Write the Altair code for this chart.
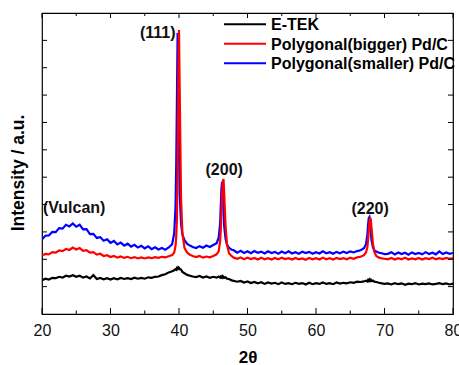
import altair as alt
import pandas as pd

# 2-theta sample positions (degrees)
x_a = [20.0, 20.5, 21.0, 21.5, 22.0, 22.5, 23.0, 23.5, 24.0, 24.5, 25.0, 25.5, 26.0, 26.5,
       27.0, 27.5, 28.0, 28.5, 29.0, 29.5, 30.0, 30.5, 31.0, 31.5, 32.0, 32.5, 33.0, 33.5,
       34.0, 34.5, 35.0, 35.5, 36.0, 36.5, 37.0, 37.5, 38.0, 38.5]
x_p1 = [39.0, 39.3, 39.5, 39.6, 39.7, 39.8, 39.9, 40.0, 40.1, 40.3, 40.5, 40.8, 41.2, 41.6, 42.0]
x_b = [42.5, 43.0, 43.5, 44.0, 44.5, 45.0, 45.5]
x_p2 = [45.8, 46.0, 46.1, 46.2, 46.3, 46.4, 46.5, 46.6, 46.8, 47.0, 47.3, 47.7, 48.0]
x_c = [48.5, 49.0, 49.5, 50.0, 50.5, 51.0, 51.5, 52.0, 52.5, 53.0, 53.5, 54.0, 54.5, 55.0,
       55.5, 56.0, 56.5, 57.0, 57.5, 58.0, 58.5, 59.0, 59.5, 60.0, 60.5, 61.0, 61.5, 62.0,
       62.5, 63.0, 63.5, 64.0, 64.5, 65.0, 65.5, 66.0, 66.5]
x_p3 = [67.0, 67.3, 67.5, 67.6, 67.7, 67.8, 67.9, 68.0, 68.1, 68.3, 68.5, 68.8, 69.2, 69.6, 70.0]
x_e = [70.5, 71.0, 71.5, 72.0, 72.5, 73.0, 73.5, 74.0, 74.5, 75.0, 75.5, 76.0, 76.5, 77.0,
       77.5, 78.0, 78.5, 79.0, 79.5, 80.0]

# E-TEK (black)
etek_a = [12.3, 12.9, 12.6, 13.2, 13.1, 13.6, 13.3, 14.0, 13.7, 14.2, 13.6, 14.0, 13.3, 13.7,
          13.0, 14.2, 12.8, 13.2, 12.7, 13.1, 12.6, 13.1, 12.7, 13.2, 12.8, 13.1, 12.8, 13.3,
          12.9, 13.2, 12.9, 13.4, 13.2, 13.6, 13.7, 14.2, 14.5, 15.2]
etek_p1 = [15.6, 16.0, 16.4, 16.2, 16.8, 16.5, 17.1, 16.9, 16.4, 16.2, 15.4, 14.9, 14.3, 14.0, 13.7]
etek_b = [13.5, 13.9, 13.3, 13.7, 13.2, 13.6, 13.3]
etek_p2 = [13.7, 13.3, 13.7, 13.4, 13.8, 13.3, 13.6, 13.2, 13.4, 12.9, 12.8, 12.3, 12.1]
etek_c = [11.8, 12.1, 11.5, 11.9, 11.3, 11.7, 11.2, 11.6, 11.0, 11.5, 11.1, 11.4, 10.9, 11.5,
          11.0, 11.3, 10.9, 11.4, 11.0, 11.3, 10.8, 11.4, 10.9, 11.3, 11.0, 11.5, 11.0, 11.3,
          10.9, 11.5, 11.1, 11.4, 11.2, 11.6, 11.4, 11.8, 11.7]
etek_p3 = [11.9, 12.2, 11.9, 12.4, 12.1, 12.6, 12.2, 12.5, 12.0, 12.2, 11.8, 11.7, 11.4, 11.2, 11.0]
etek_e = [11.2, 10.8, 11.3, 10.9, 11.2, 10.7, 11.1, 10.9, 11.3, 10.8, 11.1, 10.9, 11.2, 10.8,
          11.0, 11.3, 10.9, 11.2, 10.8, 11.1]

# Polygonal(bigger) Pd/C (red)
big_a = [21.3, 22.0, 21.8, 22.6, 22.4, 23.2, 23.0, 23.8, 23.4, 24.3, 23.6, 24.1, 23.1, 23.3,
         22.4, 22.6, 21.7, 22.0, 21.2, 21.5, 20.8, 21.2, 20.6, 21.0, 20.5, 20.9, 20.4, 20.8,
         20.3, 20.7, 20.3, 20.7, 20.4, 20.8, 20.5, 20.9, 20.7, 21.1]
big_p1 = [21.5, 22.5, 25.0, 28.5, 35.0, 55.0, 88.0, 103.8, 82.0, 42.0, 29.5, 24.2, 22.4, 21.6, 21.2]
big_b = [20.8, 21.2, 20.6, 21.0, 20.7, 21.2, 21.8]
big_p2 = [23.0, 26.5, 31.0, 37.5, 44.0, 48.5, 49.3, 44.0, 32.0, 25.5, 22.2, 21.1, 20.6]
big_c = [20.2, 20.7, 20.0, 20.6, 20.1, 20.5, 19.9, 20.6, 20.0, 20.4, 19.9, 20.5, 20.0, 20.6,
         20.1, 20.4, 19.9, 20.5, 20.0, 20.3, 19.8, 20.5, 20.0, 20.4, 19.9, 20.6, 20.0, 20.4,
         19.9, 20.5, 20.1, 20.4, 20.0, 20.6, 20.2, 20.7, 20.9]
big_p3 = [21.5, 22.5, 24.5, 27.0, 30.5, 33.5, 35.2, 34.5, 31.5, 26.0, 22.8, 21.2, 20.6, 20.3, 20.2]
big_e = [20.0, 20.5, 19.9, 20.4, 20.0, 20.6, 19.9, 20.3, 20.0, 20.5, 19.9, 20.4, 20.1, 20.6,
         20.0, 20.4, 20.1, 20.5, 20.2, 20.4]

# Polygonal(smaller) Pd/C (blue)
small_a = [27.3, 28.6, 28.7, 30.0, 29.9, 31.4, 31.2, 32.6, 32.0, 33.1, 31.9, 32.6, 30.9, 31.0,
           29.2, 29.3, 27.8, 28.1, 26.8, 27.3, 26.0, 26.7, 25.4, 26.1, 25.0, 25.7, 24.6, 25.3,
           24.3, 24.9, 24.0, 24.7, 23.7, 24.4, 23.6, 24.1, 23.5, 24.3]
small_p1 = [25.5, 29.5, 39.5, 55.0, 79.0, 102.7, 88.0, 60.0, 44.0, 33.0, 29.0, 27.0, 25.6, 25.0, 24.5]
small_b = [24.1, 24.8, 24.2, 25.0, 24.5, 25.2, 25.9]
small_p2 = [28.0, 33.0, 39.5, 46.0, 48.3, 44.0, 37.5, 32.0, 27.5, 25.5, 24.2, 23.5, 23.3]
small_c = [22.4, 23.1, 22.3, 22.9, 22.2, 23.0, 22.4, 22.8, 22.1, 22.9, 22.3, 22.7, 22.0, 22.8,
           22.2, 22.9, 22.1, 22.6, 22.0, 22.8, 22.3, 22.7, 22.0, 22.6, 22.1, 22.9, 22.2, 22.6,
           22.0, 22.7, 22.2, 22.8, 22.3, 22.9, 22.5, 23.0, 23.3]
small_p3 = [24.0, 25.5, 29.0, 32.5, 35.0, 35.4, 33.5, 30.0, 27.0, 24.5, 23.3, 22.8, 22.4, 22.2, 21.9]
small_e = [22.0, 22.6, 21.8, 22.5, 21.9, 22.4, 21.7, 22.5, 21.9, 22.3, 21.8, 22.6, 21.9, 22.4,
           21.8, 22.9, 21.9, 22.5, 22.0, 22.3]

series_names = ["E-TEK", "Polygonal(bigger) Pd/C", "Polygonal(smaller) Pd/C"]
series_colors = ["#000000", "#ff0000", "#0000ff"]

# peak annotations
ann_text = ["(111)", "(Vulcan)", "(200)", "(220)"]
ann_x = [36.9, 24.7, 46.6, 67.9]
ann_y = [102.7, 38.7, 52.6, 38.4]

x_major = [20, 30, 40, 50, 60, 70, 80]
x_minor = [25, 35, 45, 55, 65, 75]
y_ticks = [10, 20, 30, 40, 50, 60, 70, 80, 90, 100]

xs = x_a + x_p1 + x_b + x_p2 + x_c + x_p3 + x_e
ys = {
    series_names[0]: etek_a + etek_p1 + etek_b + etek_p2 + etek_c + etek_p3 + etek_e,
    series_names[1]: big_a + big_p1 + big_b + big_p2 + big_c + big_p3 + big_e,
    series_names[2]: small_a + small_p1 + small_b + small_p2 + small_c + small_p3 + small_e,
}
for k, v in ys.items():
    assert len(v) == len(xs), (k, len(v), len(xs))

W, H = 411, 301
FONT = "Liberation Sans"

xscale = alt.Scale(domain=[20, 80], nice=False, zero=False)
yscale = alt.Scale(domain=[0, 110], nice=False, zero=False)
cscale = alt.Scale(domain=series_names, range=series_colors)


def line_layer(name):
    df = pd.DataFrame({"x": xs, "y": ys[name], "s": name})
    return alt.Chart(df).mark_line(strokeWidth=2.2, clip=True).encode(
        x=alt.X("x:Q", scale=xscale,
                axis=alt.Axis(values=x_major, title="2θ", ticks=False, domain=False,
                              grid=False, labelFont=FONT, labelFontSize=16,
                              labelColor="#111", labelPadding=8, labelFlush=False,
                              titleFont=FONT, titleFontSize=17, titleFontWeight="bold",
                              titleColor="#000", titlePadding=11)),
        y=alt.Y("y:Q", scale=yscale,
                axis=alt.Axis(labels=False, ticks=False, domain=False, grid=False,
                              title="Intensity / a.u.", titleFont=FONT, titleFontSize=17.5,
                              titleFontWeight="bold", titleColor="#000",
                              titleX=-23.5, titleY=159.5, titleAngle=270,
                              titleAlign="center", titleBaseline="middle")),
        color=alt.Color("s:N", scale=cscale, legend=None),
    )


lines = [line_layer(series_names[2]), line_layer(series_names[1]),
         line_layer(series_names[0])]

# legend drawn as one rule + one label per series
LEG_X0, LEG_X1, LEG_TX = 182, 224, 229
LEG_Y0, LEG_DY = 11.3, 19.5
legend_layers = []
for i, name in enumerate(series_names):
    ldf = pd.DataFrame({"s": [name]})
    yy = LEG_Y0 + LEG_DY * i
    legend_layers.append(
        alt.Chart(ldf).mark_rule(strokeWidth=2).encode(
            x=alt.value(LEG_X0), x2=alt.value(LEG_X1), y=alt.value(yy),
            color=alt.Color("s:N", scale=cscale, legend=None)))
    legend_layers.append(
        alt.Chart(ldf).mark_text(font=FONT, fontSize=16, fontWeight="bold", color="#000",
                                 align="left", baseline="middle", dy=1).encode(
            x=alt.value(LEG_TX), y=alt.value(yy), text="s:N"))

xmaj = pd.DataFrame({"t": x_major})
xmin = pd.DataFrame({"t": x_minor})
ytk = pd.DataFrame({"t": y_ticks})

tick_layers = [
    alt.Chart(xmaj).mark_rule(color="#000", strokeWidth=1).encode(
        x=alt.X("t:Q", scale=xscale), y=alt.value(H), y2=alt.value(H - 6)),
    alt.Chart(xmin).mark_rule(color="#000", strokeWidth=1).encode(
        x=alt.X("t:Q", scale=xscale), y=alt.value(H), y2=alt.value(H - 3.5)),
    alt.Chart(xmaj).mark_rule(color="#000", strokeWidth=1).encode(
        x=alt.X("t:Q", scale=xscale), y=alt.value(0), y2=alt.value(5)),
    alt.Chart(xmin).mark_rule(color="#000", strokeWidth=1).encode(
        x=alt.X("t:Q", scale=xscale), y=alt.value(0), y2=alt.value(3)),
    alt.Chart(ytk).mark_rule(color="#000", strokeWidth=1).encode(
        y=alt.Y("t:Q", scale=yscale), x=alt.value(0), x2=alt.value(5)),
    alt.Chart(ytk).mark_rule(color="#000", strokeWidth=1).encode(
        y=alt.Y("t:Q", scale=yscale), x=alt.value(W), x2=alt.value(W - 5)),
]

ann = alt.Chart(pd.DataFrame({"t": ann_text, "x": ann_x, "y": ann_y})).mark_text(
    font=FONT, fontSize=16, fontWeight="bold", color="#111",
    align="center", baseline="middle").encode(
    x=alt.X("x:Q", scale=xscale), y=alt.Y("y:Q", scale=yscale), text="t:N")

chart = alt.layer(*lines, *tick_layers, ann, *legend_layers).resolve_scale(
    color="shared").properties(
    width=W, height=H,
    autosize=alt.AutoSizeParams(type="none"),
    padding={"left": 42, "top": 13, "right": 6, "bottom": 51},
    background="white",
).configure_view(stroke="#000", strokeWidth=1.2)

chart.save("out.html", embed_options={"renderer": "svg", "actions": False})
